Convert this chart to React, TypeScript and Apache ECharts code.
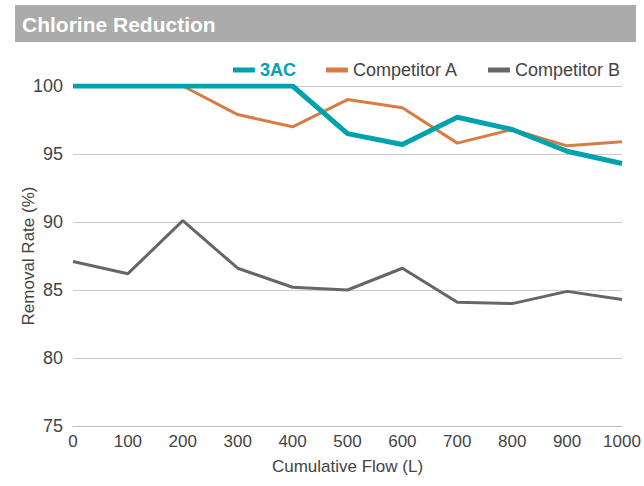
import React, { useEffect, useRef } from "react";
import * as echarts from "echarts";

const flow = [0, 100, 200, 300, 400, 500, 600, 700, 800, 900, 1000];
const seriesNames = ["3AC", "Competitor A", "Competitor B"];
const values3AC = [100, 100, 100, 100, 100, 96.5, 95.7, 97.7, 96.8, 95.2, 94.3];
const valuesA = [100, 100, 100, 97.9, 97.0, 99.0, 98.4, 95.8, 96.8, 95.6, 95.9];
const valuesB = [87.1, 86.2, 90.1, 86.6, 85.2, 85.0, 86.6, 84.1, 84.0, 84.9, 84.3];
const yTicks = [75, 80, 85, 90, 95, 100];

const FONT = "'Liberation Sans', Arial, Helvetica, sans-serif";

export default function App() {
  const ref = useRef<HTMLDivElement>(null);
  useEffect(() => {
    const chart = echarts.init(ref.current!, null, { renderer: "svg" });
    const pair = (vals: number[]) => flow.map((f, i) => [f, vals[i]]);
    chart.setOption({
      animation: false,
      textStyle: { fontFamily: FONT },
      graphic: [
        { type: "rect", shape: { x: 15, y: 5, width: 621, height: 37 }, style: { fill: "#ABABAB" } },
        {
          type: "text",
          x: 22,
          y: 24,
          style: { text: "Chlorine Reduction", fill: "#ffffff", font: `bold 21px ${FONT}`, verticalAlign: "middle" },
        },
      ],
      legend: {
        right: 19,
        top: 56,
        itemWidth: 22,
        itemHeight: 5,
        itemGap: 30,
        icon: "rect",
        data: [
          { name: seriesNames[0], textStyle: { color: "#00A3AD", fontWeight: "bold", fontSize: 18 } },
          { name: seriesNames[1] },
          { name: seriesNames[2] },
        ],
        textStyle: { color: "#444", fontSize: 18, fontFamily: FONT },
      },
      grid: { left: 73, right: 22, top: 86, bottom: 60 },
      xAxis: {
        type: "value",
        min: 0,
        max: 1000,
        interval: 100,
        name: "Cumulative Flow (L)",
        nameLocation: "middle",
        nameGap: 32,
        nameTextStyle: { color: "#444", fontSize: 17 },
        axisLine: { show: true, lineStyle: { color: "#BBBBBB", width: 1 } },
        axisTick: { show: false },
        splitLine: { show: false },
        axisLabel: { color: "#444", fontSize: 17, margin: 7, formatter: (v: number) => String(v) },
      },
      yAxis: {
        type: "value",
        min: yTicks[0],
        max: yTicks[yTicks.length - 1],
        interval: 5,
        name: "Removal Rate (%)",
        nameLocation: "middle",
        nameGap: 36,
        nameMoveOverlap: false,
        nameTextStyle: { color: "#444", fontSize: 17 },
        axisLine: { show: false },
        axisTick: { show: false },
        splitLine: { lineStyle: { color: "#CCCCCC", width: 1 } },
        axisLabel: { color: "#444", fontSize: 18, margin: 10 },
      },
      series: [
        {
          name: seriesNames[0],
          type: "line",
          data: pair(values3AC),
          symbol: "none",
          z: 5,
          lineStyle: { color: "#00A3AD", width: 5 },
          itemStyle: { color: "#00A3AD" },
        },
        {
          name: seriesNames[1],
          type: "line",
          data: pair(valuesA),
          symbol: "none",
          z: 4,
          lineStyle: { color: "#D97B45", width: 3 },
          itemStyle: { color: "#D97B45" },
        },
        {
          name: seriesNames[2],
          type: "line",
          data: pair(valuesB),
          symbol: "none",
          z: 3,
          lineStyle: { color: "#666666", width: 3 },
          itemStyle: { color: "#666666" },
        },
      ],
    });
    return () => chart.dispose();
  }, []);
  return <div ref={ref} style={{ width: 644, height: 486, position: "absolute", left: 0, top: 0 }} />;
}
